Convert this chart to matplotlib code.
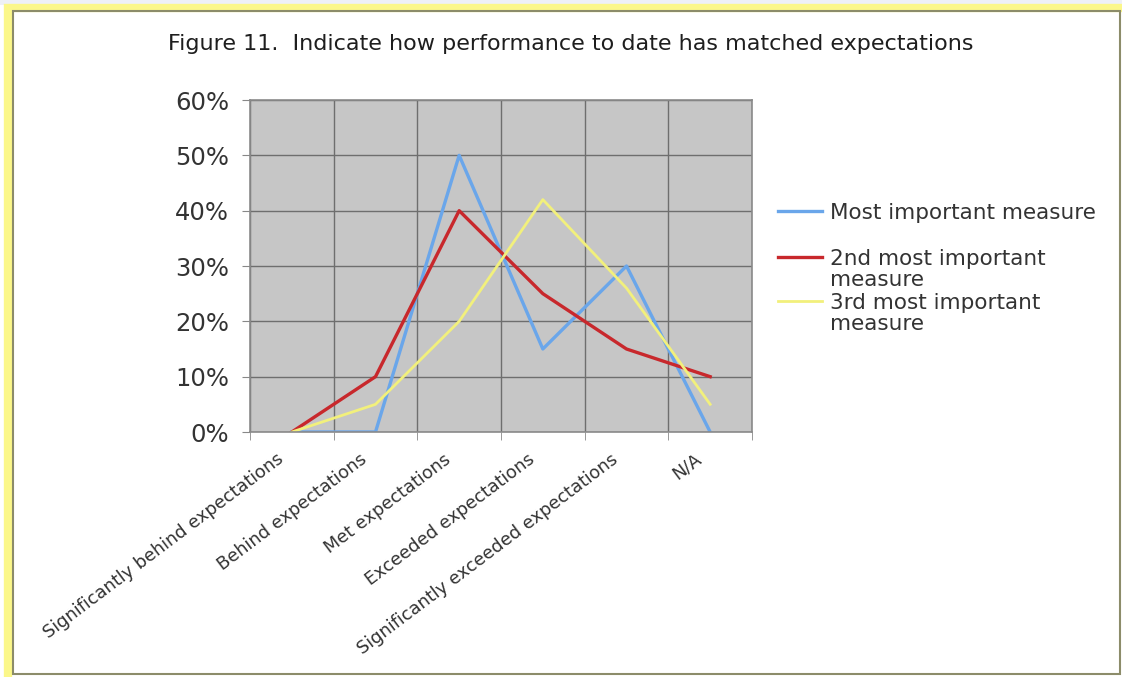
import matplotlib.pyplot as plt
from matplotlib.patches import Rectangle
from matplotlib.lines import Line2D
from matplotlib.ticker import PercentFormatter
from matplotlib.transforms import ScaledTranslation

## Chart data
categories = ["Significantly behind expectations", "Behind expectations",
              "Met expectations", "Exceeded expectations",
              "Significantly exceeded expectations", "N/A"]
most_important = [0, 0, 50, 15, 30, 0]
second_important = [0, 10, 40, 25, 15, 10]
third_important = [0, 5, 20, 42, 26, 5]
series_labels = ["Most important measure",
                 "2nd most important\nmeasure",
                 "3rd most important\nmeasure"]

W, H = 1122, 677
fig = plt.figure(figsize=(W / 100, H / 100), dpi=100)
fig.patch.set_facecolor("white")

## Yellow frame round the chart, like the original screenshot
fig.patches.append(Rectangle((0, 1 - 5 / H), 1, 5 / H, transform=fig.transFigure,
                             facecolor="#eef0f6", edgecolor="none"))
fig.patches.append(Rectangle((8 / W, -0.05), 1.1, (H - 8) / H + 0.05,
                             transform=fig.transFigure, fill=False,
                             edgecolor="#fbf78a", linewidth=6))
fig.patches.append(Rectangle((13 / W, 3 / H), (W - 15) / W, (H - 14) / H,
                             transform=fig.transFigure, fill=False,
                             edgecolor="#8c8c6a", linewidth=1.5))

ax = fig.add_axes([250 / W, 1 - 432 / H, (752 - 250) / W, (432 - 100) / H])
ax.set_facecolor("#c6c6c6")

x = list(range(len(categories)))
lines = []
lines += ax.plot(x, most_important, color="#6aa6ea", linewidth=2.4)
lines += ax.plot(x, second_important, color="#c8282c", linewidth=2.4)
lines += ax.plot(x, third_important, color="#f2f07c", linewidth=2.0)

ax.set_xlim(-0.5, len(categories) - 0.5)
ax.set_ylim(0, 60)
ax.yaxis.set_major_formatter(PercentFormatter(decimals=0))
ax.set_yticks(range(0, 61, 10))

## vertical grid lines sit between categories
ax.set_xticks([i - 0.5 for i in range(len(categories) + 1)], minor=True)
ax.set_xticks(x)
ax.set_xticklabels(categories, rotation=37, ha="right", rotation_mode="anchor",
                   fontsize=12.8, color="#333333")
ax.tick_params(axis="x", which="major", length=0, pad=16)
ax.tick_params(axis="x", which="minor", length=6, color="#888888")
ax.tick_params(axis="y", length=6, color="#888888", labelsize=17.5,
               labelcolor="#333333", pad=9)

## the labels end a little left of the category centre
shift = ScaledTranslation(-0.16, 0.04, fig.dpi_scale_trans)
for lab in ax.get_xticklabels():
    lab.set_transform(lab.get_transform() + shift)

ax.grid(True, axis="y", color="#6e6e6e", linewidth=1.0)
ax.grid(True, axis="x", which="minor", color="#6e6e6e", linewidth=1.0)
ax.set_axisbelow(True)
for s in ax.spines.values():
    s.set_color("#8a8a8a")
    s.set_linewidth(1.2)

fig.text(168 / W, 1 - 44 / H,
         "Figure 11.  Indicate how performance to date has matched expectations",
         fontsize=16, color="#1e1e1e", va="center", ha="left")

## legend: handle next to the first line of each label, like Excel does
legend_y = [211, 257, 301]
line_gap = 21.5
for ln, label, y in zip(lines, series_labels, legend_y):
    fig.add_artist(Line2D([778 / W, 822 / W], [1 - y / H, 1 - y / H],
                          color=ln.get_color(), linewidth=ln.get_linewidth()))
    for i, part in enumerate(label.split("\n")):
        fig.text(830 / W, 1 - (y + i * line_gap) / H, part,
                 va="center_baseline", ha="left", fontsize=15.5,
                 color="#333333")

fig.savefig("out.png", dpi=100)
